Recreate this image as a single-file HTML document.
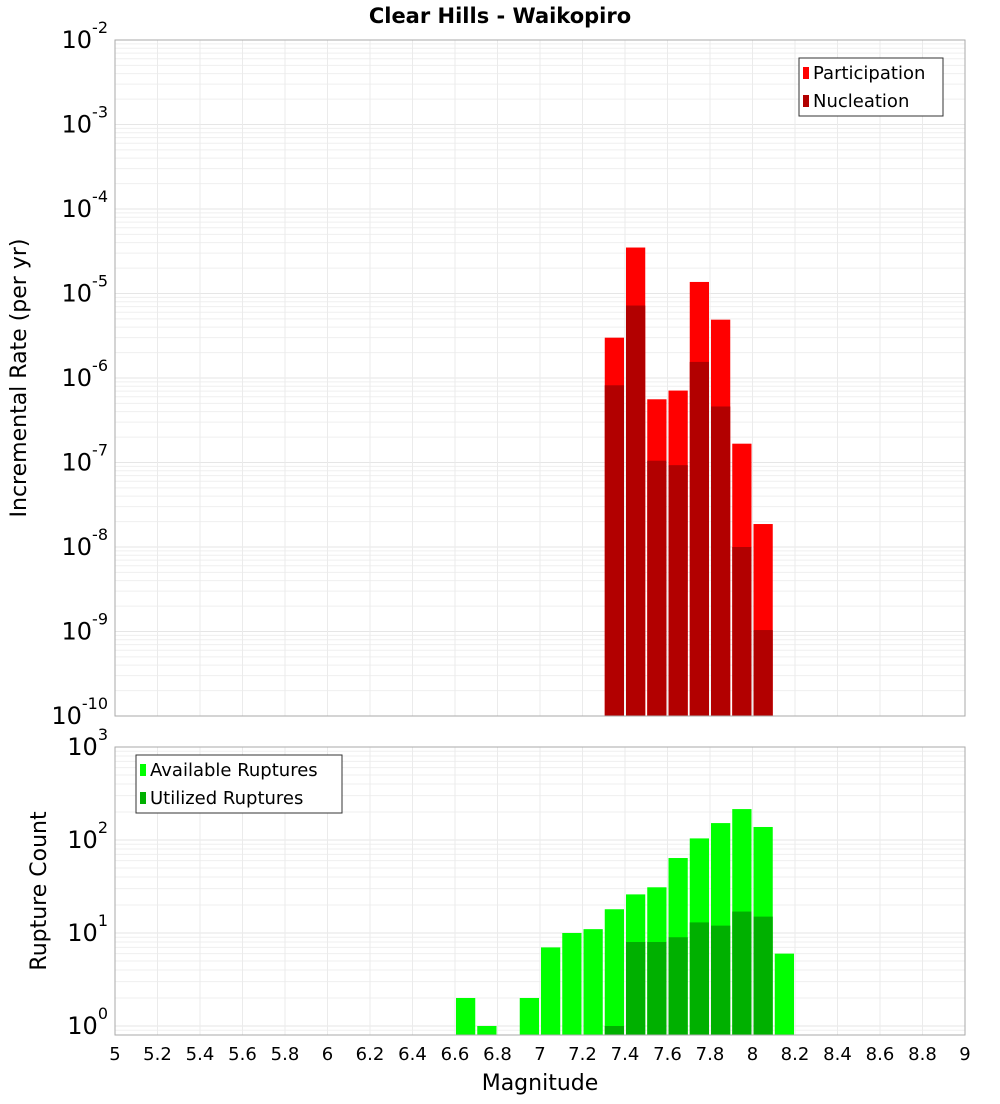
<!DOCTYPE html>
<html><head><meta charset="utf-8"><style>
body{margin:0;background:#fff;font-family:"DejaVu Sans","Liberation Sans",sans-serif}
</style></head><body>
<svg id="c" width="1000" height="1100" xmlns="http://www.w3.org/2000/svg" font-family="DejaVu Sans, Liberation Sans, sans-serif">
<text x="500" y="23" text-anchor="middle" font-size="21" font-weight="bold">Clear Hills - Waikopiro</text>
<text transform="translate(26,378) rotate(-90)" text-anchor="middle" font-size="22">Incremental Rate (per yr)</text>
<text transform="translate(46,891) rotate(-90)" text-anchor="middle" font-size="22">Rupture Count</text>
<text x="540" y="1090" text-anchor="middle" font-size="22">Magnitude</text>
<g id="top"></g><g id="bot"></g>
</svg>
<script>
const binStarts=[7.3,7.4,7.5,7.6,7.7,7.8,7.9,8.0];
const participation=[3.0e-6,3.5e-5,5.6e-7,7.1e-7,1.37e-5,4.9e-6,1.67e-7,1.87e-8];
const nucleation=[8.2e-7,7.2e-6,1.05e-7,9.3e-8,1.55e-6,4.6e-7,1.0e-8,1.04e-9];
const countBins=[6.6,6.7,6.9,7.0,7.1,7.2,7.3,7.4,7.5,7.6,7.7,7.8,7.9,8.0,8.1];
const available=[2,1,2,7,10,11,18,26,31,64,104,152,215,138,6];
const utilized=[0,0,0,0,0,0,1,8,8,9,13,12,17,15,0];
const xTicks=[5,5.2,5.4,5.6,5.8,6,6.2,6.4,6.6,6.8,7,7.2,7.4,7.6,7.8,8,8.2,8.4,8.6,8.8,9];
const topExp=[-10,-9,-8,-7,-6,-5,-4,-3,-2];
const botExp=[0,1,2,3];
const NS="http://www.w3.org/2000/svg";
const X0=115,X1=965;
const xs=m=>X0+(m-5)/4*(X1-X0);
function mk(t,a,p){const e=document.createElementNS(NS,t);for(const k in a)e.setAttribute(k,a[k]);p.appendChild(e);return e;}
function panel(g,T,B,lmin,lmax,exps,name){
  const ys=v=>B-(Math.log10(v)-lmin)/(lmax-lmin)*(B-T);
  for(let e=Math.floor(lmin);e<Math.ceil(lmax);e++)for(let k=1;k<10;k++){const v=k*Math.pow(10,e);const y=ys(v);if(y<T||y>B)continue;
    const l=mk('line',{x1:X0,x2:X1,y1:y,y2:y,stroke:k==1?'#e6e6e6':'#efefef','stroke-width':1},g);}
  xTicks.forEach(t=>{const x=xs(t);const l=mk('line',{x1:x,x2:x,y1:T,y2:B,stroke:'#ebebeb'},g);});
  exps.forEach(e=>{const y=ys(Math.pow(10,e));const t=mk('text',{x:108,y:y+8,'text-anchor':'end','font-size':24},g);
    t.textContent='10';const s=mk('tspan',{dy:-15,'font-size':16},t);s.textContent=String(e);});
  return ys;
}
function bars(g,ys,B,starts,vals,col,name){
  starts.forEach((s,i)=>{if(!vals[i])return;const x=xs(s)+1,w=xs(s+0.1)-xs(s)-2,y=Math.max(ys(vals[i]),0);
    const r=mk('rect',{x:x,y:y,width:w,height:B-y,fill:col},g);});
}
function frame(g,T,B,name){const r=mk('rect',{x:X0,y:T,width:X1-X0,height:B-T,fill:'none',stroke:'#aaa'},g);}
function legend(g,x,y,w,items,name){
  const b=mk('rect',{x:x,y:y,width:w,height:58,fill:'#fff',stroke:'#333'},g);
  items.forEach((it,i)=>{const cy=y+15+i*28;const s=mk('rect',{x:x+4,y:cy-6,width:6,height:12,fill:it[1]},g);
    const t=mk('text',{x:x+14,y:cy+6,'font-size':18},g);t.textContent=it[0];});
}
const gt=document.getElementById('top'),gb=document.getElementById('bot');
const yt=panel(gt,40,716,-10,-2,topExp,'top');
bars(gt,yt,716,binStarts,participation,'#ff0000','participation-bar');
bars(gt,yt,716,binStarts,nucleation,'#b20000','nucleation-bar');
frame(gt,40,716,'top');
legend(gt,799,58,144,[['Participation','#ff0000'],['Nucleation','#b20000']],'top-legend');
const yb=panel(gb,747,1035,-0.097,3,botExp,'bottom');
bars(gb,yb,1035,countBins,available,'#00ff00','available-bar');
bars(gb,yb,1035,countBins,utilized,'#00b000','utilized-bar');
frame(gb,747,1035,'bottom');
legend(gb,136,755,206,[['Available Ruptures','#00ff00'],['Utilized Ruptures','#00b000']],'bottom-legend');
xTicks.forEach(t=>{const e=mk('text',{x:xs(t),y:1060,'text-anchor':'middle','font-size':18},gb);e.textContent=String(t);});
</script>
</body></html>
